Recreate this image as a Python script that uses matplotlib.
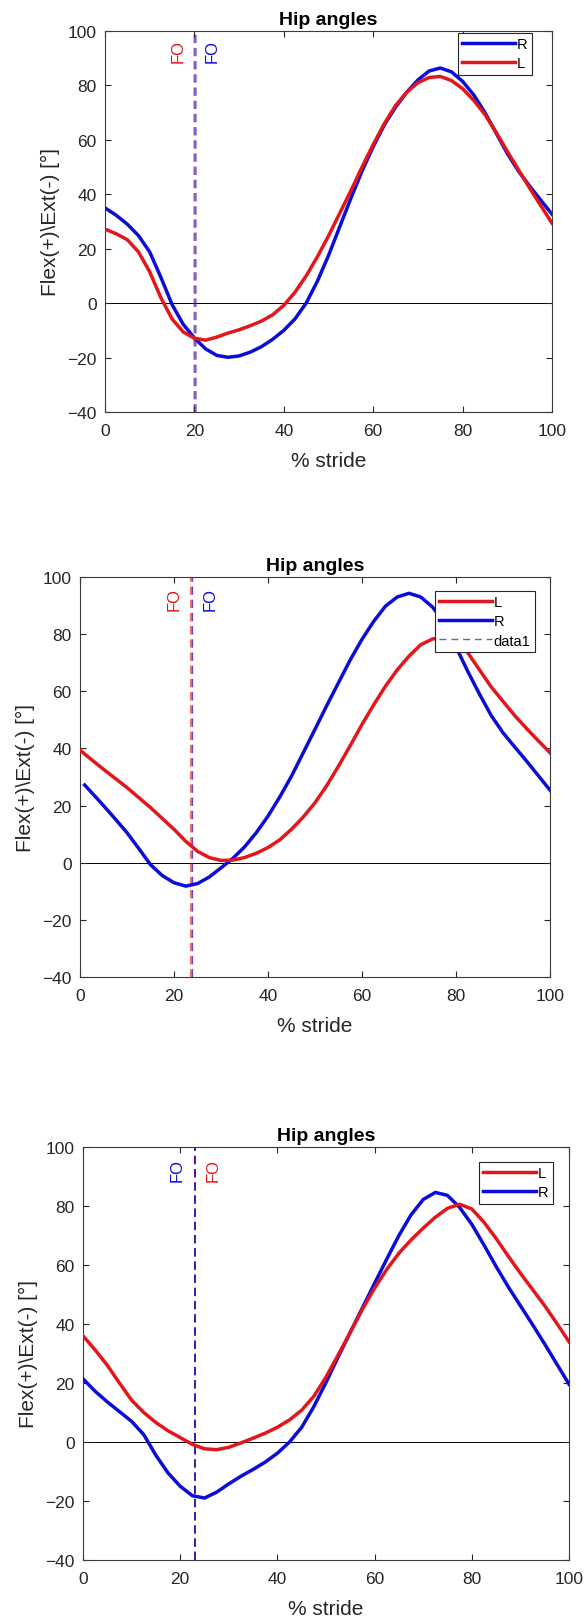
import numpy as np
import matplotlib
matplotlib.use('Agg')
import matplotlib.pyplot as plt
from matplotlib.lines import Line2D

plt.rcParams['font.family'] = ['Liberation Sans', 'DejaVu Sans']
plt.rcParams['lines.scale_dashes'] = False

# % stride sample points
stride = np.arange(0, 101, 2.5)
stride_p2_R = np.concatenate([[1.0], np.arange(2.5, 101, 2.5)])

# panel 1 (top)
p1_R = [35, 32.3, 29, 24.8, 18.8, 9.5, -0.5, -7.8, -12.8, -16.8, -19.2, -19.9, -19.4, -18, -16,
        -13.3, -10, -5.8, 0, 8, 17.5, 28, 38.5, 48.5, 57.5, 65.5, 72, 77.5, 82, 85.3, 86.4, 85,
        81.5, 76.5, 70, 62.5, 55, 48.5, 43, 37.8, 32.7]
p1_L = [27.2, 25.5, 23.3, 18.8, 11.5, 2.0, -5.8, -10.6, -12.9, -13.6, -12.5, -11, -9.8, -8.3,
        -6.6, -4.3, -0.8, 4, 10, 17, 24.7, 33, 41.3, 50, 58.3, 66, 72.6, 77.5, 81, 82.9, 83.3,
        81.8, 78.8, 74.5, 69.3, 62.8, 55.8, 49, 42.3, 35.8, 29.4]
p1_fo = {'L': 19.9, 'R': 20.1}

# panel 2 (middle)
p2_L = [39.4, 36, 32.7, 29.5, 26.3, 22.8, 19.3, 15.5, 11.7, 7.5, 4, 1.8, 0.8, 0.9, 1.8, 3.3,
        5.3, 8, 11.7, 16, 21, 27, 33.8, 41, 48.4, 55.3, 61.8, 67.5, 72.3, 76.3, 78.3, 79, 77.5,
        73.5, 67.5, 61.5, 56.5, 51.5, 47, 42.7, 38.5]
p2_R = [27.2, 24.5, 20, 15.3, 10.5, 5, -0.7, -4.5, -7, -8.2, -7.3, -5, -1.8, 1.5, 5.5, 10.5,
        16.3, 23, 30.3, 38.5, 46.7, 55, 63, 71, 78.2, 84.5, 89.8, 93, 94.3, 93, 89.5, 84, 75.5,
        67, 59, 51.5, 45.5, 40.5, 35.6, 30.5, 25.4]
p2_fo = {'L': 23.7, 'R': 23.9}

# panel 3 (bottom)
p3_L = [36, 31.2, 26, 20, 14.2, 10, 6.6, 3.8, 1.5, -0.8, -2.3, -2.6, -1.8, -0.3, 1.3, 3,
        5, 7.5, 10.8, 15.5, 22, 29.5, 37.2, 45, 52.2, 58.5, 64, 68.5, 72.5, 76.2, 79.2, 80.6, 79,
        74.5, 69, 63, 57.2, 51.7, 46.2, 40.2, 34]
p3_R = [21.4, 17.2, 13.6, 10.3, 7, 2.5, -4.5, -10.5, -15, -18.2, -19, -17, -14.2, -11.6, -9.3,
        -6.8, -3.8, 0, 5, 12, 20.2, 28.8, 37.2, 45.5, 53.8, 62, 70, 77, 82.2, 84.6, 83.6, 79.5,
        73.8, 66.8, 59.5, 52.6, 46.2, 39.8, 33.2, 26.4, 19.6]
p3_fo = {'L': 23.0, 'R': 22.95}

RED = '#e3161b'
BLUE = '#0c0cd8'
TXT = '#262626'
W, H = 585, 1624


def rect(l, t, r, b):
    return [l / W, 1 - b / H, (r - l) / W, (b - t) / H]


def panel(fig, box, curves, fo, fo_style, leg_order, leg_anchor):
    ax = fig.add_axes(rect(*box))
    ax.axhline(0, color='k', lw=0.7, zorder=1)

    lines = {}
    for key, (x, y) in curves.items():
        col = RED if key == 'L' else BLUE
        lines[key], = ax.plot(x, y, color=col, lw=2.5, label=key, zorder=3,
                              solid_joinstyle='round')

    # foot-off markers, red first then blue on top
    for key in ['L', 'R']:
        col = RED if key == 'L' else BLUE
        lw, alpha = fo_style[key]
        ln = ax.axvline(fo[key], color=col, lw=lw, alpha=alpha, dashes=(6, 3.5), zorder=2)
        if key == 'R':
            lines['data1'] = ln
    early = 'L' if fo['L'] < fo['R'] else 'R'
    for key in ['L', 'R']:
        col = RED if key == 'L' else BLUE
        off = -3.6 if key == early else 3.8
        ax.text(fo[key] + off, 88.6, 'FO', rotation=90, ha='center', va='bottom',
                color=col, fontsize=12)

    ax.set_xlim(0, 100)
    ax.set_ylim(-40, 100)
    ax.set_xticks(np.arange(0, 101, 20))
    ax.set_yticks(np.arange(-40, 101, 20))
    ax.tick_params(direction='in', top=True, right=True, length=4, width=0.8,
                   labelsize=12.5, colors=TXT)
    ax.tick_params(axis='x', pad=8)
    ax.tick_params(axis='y', pad=6)
    for s in ax.spines.values():
        s.set_color('#3a3a3a')
        s.set_linewidth(0.8)

    ax.set_title('Hip angles', fontsize=14, fontweight='bold', color='k', pad=5)
    ax.set_xlabel('% stride', fontsize=15, color=TXT, labelpad=9)
    ax.set_ylabel('Flex(+)\\Ext(-) [°]', fontsize=15, color=TXT, labelpad=5)

    handles = [lines[k] for k in leg_order]
    if 'data1' in leg_order:
        handles[-1] = Line2D([], [], color='#6a6aa8', lw=1, dashes=(5, 3.5))
    leg = ax.legend(handles, leg_order, loc='upper right', bbox_to_anchor=leg_anchor,
                    fontsize=10.5, handlelength=3.6, handletextpad=0.15, borderpad=0.3,
                    labelspacing=0.35, borderaxespad=0, fancybox=False, framealpha=1)
    leg.get_frame().set_edgecolor('#262626')
    leg.get_frame().set_linewidth(0.8)
    return ax


fig = plt.figure(figsize=(W / 100, H / 100), dpi=100)

panel(fig, (105, 32, 552, 413),
      {'R': (stride, p1_R), 'L': (stride, p1_L)},
      p1_fo, {'L': (2, 0.45), 'R': (2, 0.45)},
      ['R', 'L'], (0.955, 0.995))

panel(fig, (80, 578, 550, 978),
      {'R': (stride_p2_R, p2_R), 'L': (stride, p2_L)},
      p2_fo, {'L': (2.2, 0.6), 'R': (1.0, 0.5)},
      ['L', 'R', 'data1'], (0.968, 0.965))

panel(fig, (83, 1148, 569, 1561),
      {'R': (stride, p3_R), 'L': (stride, p3_L)},
      p3_fo, {'L': (1.2, 0.9), 'R': (1.2, 0.9)},
      ['L', 'R'], (0.967, 0.964))

fig.savefig('out.png', dpi=100)
